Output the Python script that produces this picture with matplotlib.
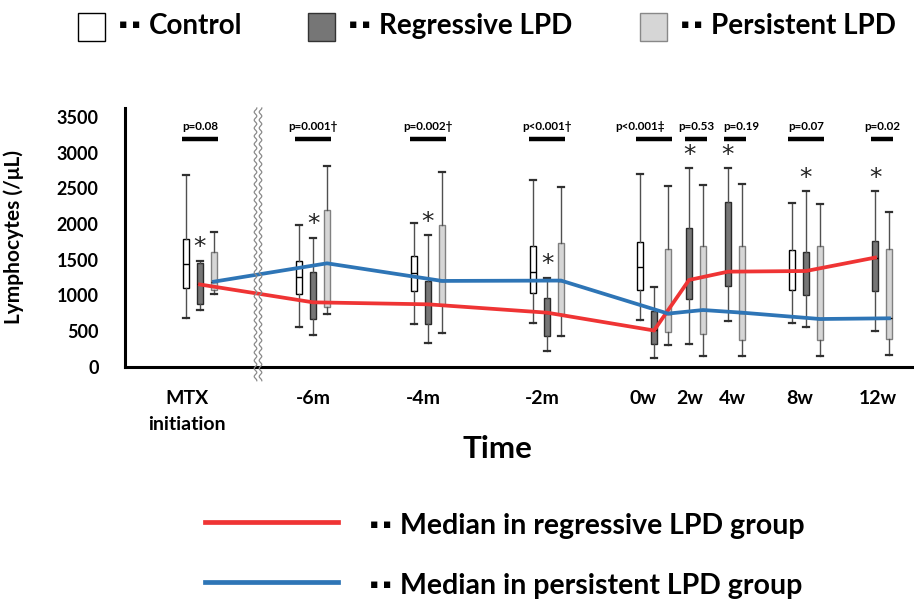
import numpy as np
import matplotlib.pyplot as plt
import matplotlib.transforms as mtransforms
from matplotlib.patches import Rectangle
from matplotlib.lines import Line2D

plt.rcParams['font.family'] = ['Lato', 'DejaVu Sans']
plt.rcParams['font.weight'] = 'bold'

# ==========================================
# DATA (lymphocytes /uL)
# each entry: (whisker low, Q1, median, Q3, whisker high), None = not measured
# ==========================================
TIME_LABELS = ["MTX\ninitiation", "-6m", "-4m", "-2m", "0w", "2w", "4w", "8w", "12w"]

CONTROL = [
    (680, 1105, 1437, 1784, 2690),
    (560, 1012, 1260, 1484, 1990),
    (596, 1063, 1316, 1554, 2008),
    (615, 1030, 1330, 1690, 2611),
    (652, 1068, 1391, 1748, 2700),
    None,
    None,
    (606, 1073, 1353, 1634, 2288),
    None,
]
REGRESSIVE = [
    (792, 877, 1150, 1447, 1484),
    (442, 666, 900, 1325, 1806),
    (325, 591, 872, 1199, 1844),
    (222, 423, 755, 960, 1245),
    (115, 320, 505, 780, 1108),
    (311, 942, 1213, 1938, 2780),
    (643, 1133, 1330, 2311, 2780),
    (550, 1003, 1339, 1611, 2461),
    (502, 1063, 1527, 1765, 2461),
]
PERSISTENT = [
    (1017, 1073, 1190, 1611, 1882),
    (736, 839, 1447, 2195, 2812),
    (475, 862, 1200, 1985, 2733),
    (428, 740, 1205, 1727, 2522),
    (296, 484, 742, 1646, 2532),
    (147, 456, 792, 1690, 2546),
    (147, 372, 755, 1690, 2560),
    (147, 372, 666, 1690, 2279),
    (161, 386, 676, 1648, 2162),
]
P_LABELS = ["p=0.08", "p=0.001\u2020", "p=0.002\u2020", "p<0.001\u2020", "p<0.001\u2021",
            "p=0.53", "p=0.19", "p=0.07", "p=0.02"]
STAR_REGRESSIVE = [True, True, True, True, False, True, True, True, True]

# ==========================================
# LAYOUT
# ==========================================
GROUP_X = [75, 188, 303, 422, 529, 564, 603, 681, 750]   # regressive box position
TICK_X = [62, 188, 298, 417, 518, 565, 607, 675, 753]
P_LABEL_DX = [0, 0, 0, 0, -14, 0, 6, 0, 0]
OFFSET = 14
BOX_W = 6
BREAK_X = 133
P_BAR_Y = 3190
P_TEXT_Y = 3290

C_RED = '#ef3434'
C_BLUE = '#2e75b6'
C_DARK = '#767676'
C_LIGHT = '#d6d6d6'


def to_stats(rows):
    return [dict(whislo=r[0], q1=r[1], med=r[2], q3=r[3], whishi=r[4], fliers=[]) for r in rows]


def draw_boxes(ax, rows, xs, face, edge):
    keep = [(r, x) for r, x in zip(rows, xs) if r is not None]
    stats = to_stats([k[0] for k in keep])
    pos = [k[1] for k in keep]
    ax.bxp(stats, positions=pos, widths=BOX_W, capwidths=BOX_W, patch_artist=True,
           showfliers=False, manage_ticks=False,
           boxprops=dict(facecolor=face, edgecolor=edge, linewidth=1.0),
           whiskerprops=dict(color='#505050', linewidth=1.0),
           capprops=dict(color='#303030', linewidth=1.6),
           medianprops=dict(color='black', linewidth=1.0))


fig = plt.figure(figsize=(9.14, 6.02), dpi=100)
ax = fig.add_axes([125 / 914, 1 - 366.5 / 602, 787 / 914, 258.5 / 602])

ctrl_x = [x - OFFSET for x in GROUP_X]
pers_x = [x + OFFSET for x in GROUP_X]
draw_boxes(ax, CONTROL, ctrl_x, 'white', 'black')
draw_boxes(ax, REGRESSIVE, GROUP_X, C_DARK, '#2a2a2a')
draw_boxes(ax, PERSISTENT, pers_x, C_LIGHT, '#808080')

# median lines
ax.plot(GROUP_X, [r[2] for r in REGRESSIVE], color=C_RED, lw=2.7, zorder=5,
        solid_joinstyle='miter')
ax.plot(pers_x, [r[2] for r in PERSISTENT], color=C_BLUE, lw=2.7, zorder=5,
        solid_joinstyle='miter')

# stars over regressive group
for x, r, s in zip(GROUP_X, REGRESSIVE, STAR_REGRESSIVE):
    if s:
        ax.annotate("*", xy=(x, r[4]), xytext=(0, 1), textcoords='offset points',
                    ha='center', va='bottom', fontsize=18, fontweight='normal',
                    family='DejaVu Sans', color='#222222')

# p-value bars
for i, label in enumerate(P_LABELS):
    left = ctrl_x[i] if CONTROL[i] is not None else GROUP_X[i]
    x0, x1 = left - 4, pers_x[i] + 4
    ax.plot([x0, x1], [P_BAR_Y, P_BAR_Y], color='black', lw=3.2,
            solid_capstyle='butt', clip_on=False)
    ax.text((x0 + x1) / 2 + P_LABEL_DX[i], P_TEXT_Y, label, ha='center', va='bottom',
            fontsize=8.4, fontweight='bold', family=['Lato', 'DejaVu Sans'])

# axis break (double wavy line)
trans = mtransforms.blended_transform_factory(ax.transData, ax.transAxes)
yy = np.linspace(-0.055, 1.0, 400)
for dx in (-2.5, 2.5):
    ax.plot(BREAK_X + dx + 1.3 * np.sin(2 * np.pi * yy / 0.031), yy,
            color='#8a8a8a', lw=0.9, transform=trans, clip_on=False, zorder=6)

ax.set_xlim(0, 787)
ax.set_ylim(0, 3625)
ax.set_yticks(np.arange(0, 3501, 500))
ax.set_xticks(TICK_X)
ax.set_xticklabels(TIME_LABELS, fontsize=14, linespacing=1.6)
ax.tick_params(axis='y', length=0, pad=19, labelsize=13)
ax.tick_params(axis='x', length=0, pad=17)
for lab in ax.get_yticklabels() + ax.get_xticklabels():
    lab.set_fontweight('bold')
for side in ('top', 'right'):
    ax.spines[side].set_visible(False)
ax.spines['left'].set_linewidth(2.2)
ax.spines['bottom'].set_linewidth(2.2)
ax.set_ylabel("Lymphocytes (/\u03bcL)", fontsize=15, fontweight='bold')
ax.yaxis.set_label_coords(-0.128, 0.5)
fig.text(497 / 914, 1 - 449 / 602, "Time", ha='center', va='center',
         fontsize=22.5, fontweight='bold')


def fx(px):
    return px / 914


def fy(py):
    return 1 - py / 602


# top legend
for bx, face, edge, label in [(78, 'white', 'black', 'Control'),
                              (308, C_DARK, '#333333', 'Regressive LPD'),
                              (640, C_LIGHT, '#888888', 'Persistent LPD')]:
    fig.add_artist(Rectangle((fx(bx), fy(41)), 27 / 914, 28 / 602, transform=fig.transFigure,
                             facecolor=face, edgecolor=edge, linewidth=1.0))
    fig.text(fx(bx + 41), fy(25), "\u25aa \u25aa", ha='left', va='center', fontsize=9,
             family='DejaVu Sans')
    fig.text(fx(bx + 71), fy(26), label, ha='left', va='center', fontsize=20,
             fontweight='bold')

# bottom legend
for ly, color, label in [(522, C_RED, 'Median in regressive LPD group'),
                         (582, C_BLUE, 'Median in persistent LPD group')]:
    fig.add_artist(Line2D([fx(205), fx(338)], [fy(ly), fy(ly)], color=color, lw=3.4,
                          transform=fig.transFigure))
    fig.text(fx(370), fy(ly + 3), "\u25aa \u25aa", ha='left', va='center', fontsize=9,
             family='DejaVu Sans')
    fig.text(fx(400), fy(ly + 4), label, ha='left', va='center', fontsize=20.5,
             fontweight='bold')

fig.savefig("out.png", dpi=100)
